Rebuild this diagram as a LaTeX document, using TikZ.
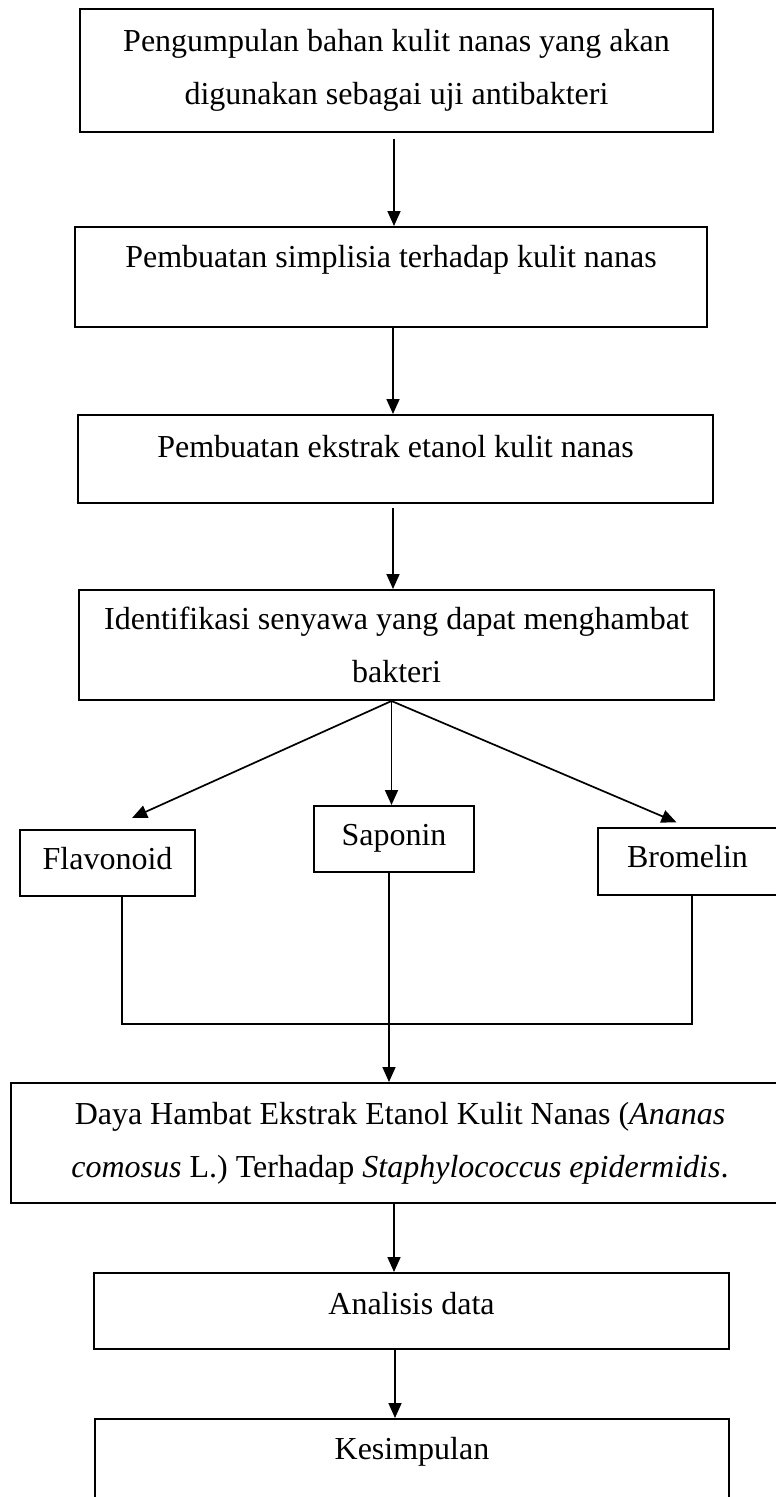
\documentclass[tikz,border=0pt]{standalone}
\usepackage{fontspec}
\setmainfont{Liberation Serif}
\usetikzlibrary{arrows.meta}
% raise a one-line label without changing the box size
\newcommand{\lift}[2]{\raisebox{#1}[0.7em][0.25em]{#2}}

\begin{document}
\begin{tikzpicture}[x=1pt,y=-1pt,
  box/.style={draw,line width=2pt,rectangle,inner sep=0pt,align=center,font=\fontsize{32}{53}\selectfont},
  lin/.style={line width=1.7pt},
  arr/.style={lin,-{Triangle[length=15pt,width=13pt]}}]
  \useasboundingbox (0,0) rectangle (776,1497);

  % main steps
  \node[box,minimum width=633pt,minimum height=123pt] (b1) at (396.5,70.5) {Pengumpulan bahan kulit nanas yang akan\\digunakan sebagai uji antibakteri};
  \node[box,minimum width=632pt,minimum height=100pt] (b2) at (391,277) {\lift{17pt}{Pembuatan simplisia terhadap kulit nanas}};
  \node[box,minimum width=635pt,minimum height=88pt] (b3) at (395.5,459) {\lift{9pt}{Pembuatan ekstrak etanol kulit nanas}};
  \node[box,minimum width=635pt,minimum height=110pt] (b4) at (396.5,645) {Identifikasi senyawa yang dapat menghambat\\bakteri};

  % compounds
  \node[box,minimum width=175pt,minimum height=66pt] (fl) at (107.5,863) {\lift{1pt}{Flavonoid}};
  \node[box,minimum width=160pt,minimum height=66pt] (sp) at (394,839) {\lift{1pt}{Saponin}};
  \node[box,minimum width=179pt,minimum height=67pt] (br) at (687.5,861.5) {\lift{1pt}{Bromelin}};
  \coordinate (jn) at (392,1024);

  % result and follow-up
  \node[box,minimum width=778pt,minimum height=120pt] (dy) at (400,1143) {Daya Hambat Ekstrak Etanol Kulit Nanas (\textit{Ananas}\\\textit{comosus} L.) Terhadap \textit{Staphylococcus epidermidis}.};
  \node[box,minimum width=635pt,minimum height=76pt] (an) at (411.5,1311) {\lift{4pt}{Analisis data}};
  \node[box,minimum width=634pt,minimum height=90pt] (ks) at (412,1464) {\lift{12pt}{Kesimpulan}};

  \draw[arr,shorten <=6pt] ([xshift=-2.5pt]b1.south) -- ([xshift=-2.5pt]b1.south |- b2.north);
  \draw[arr] ([xshift=2pt]b2.south) -- ([xshift=2pt]b2.south |- b3.north);
  \draw[arr,shorten <=4pt] ([xshift=-2.5pt]b3.south) -- ([xshift=-2.5pt]b3.south |- b4.north);
  \draw[arr,shorten >=27pt] ([xshift=-5pt]b4.south) -- (fl.north);
  \draw[arr] ([xshift=-5pt]b4.south) -- ([xshift=-5pt]b4.south |- sp.north);
  \draw[arr,shorten >=12pt] ([xshift=-5pt]b4.south) -- (br.north);
  \draw[lin] ([xshift=14.5pt]fl.south) |- (jn) -| ([xshift=4.5pt]br.south);
  \draw[arr] ([xshift=-5pt]sp.south) -- ([xshift=-5pt]sp.south |- dy.north);
  \draw[arr] ([xshift=-6pt]dy.south) -- ([xshift=-6pt]dy.south |- an.north);
  \draw[arr] ([xshift=-16.5pt]an.south) -- ([xshift=-16.5pt]an.south |- ks.north);
\end{tikzpicture}
\end{document}
